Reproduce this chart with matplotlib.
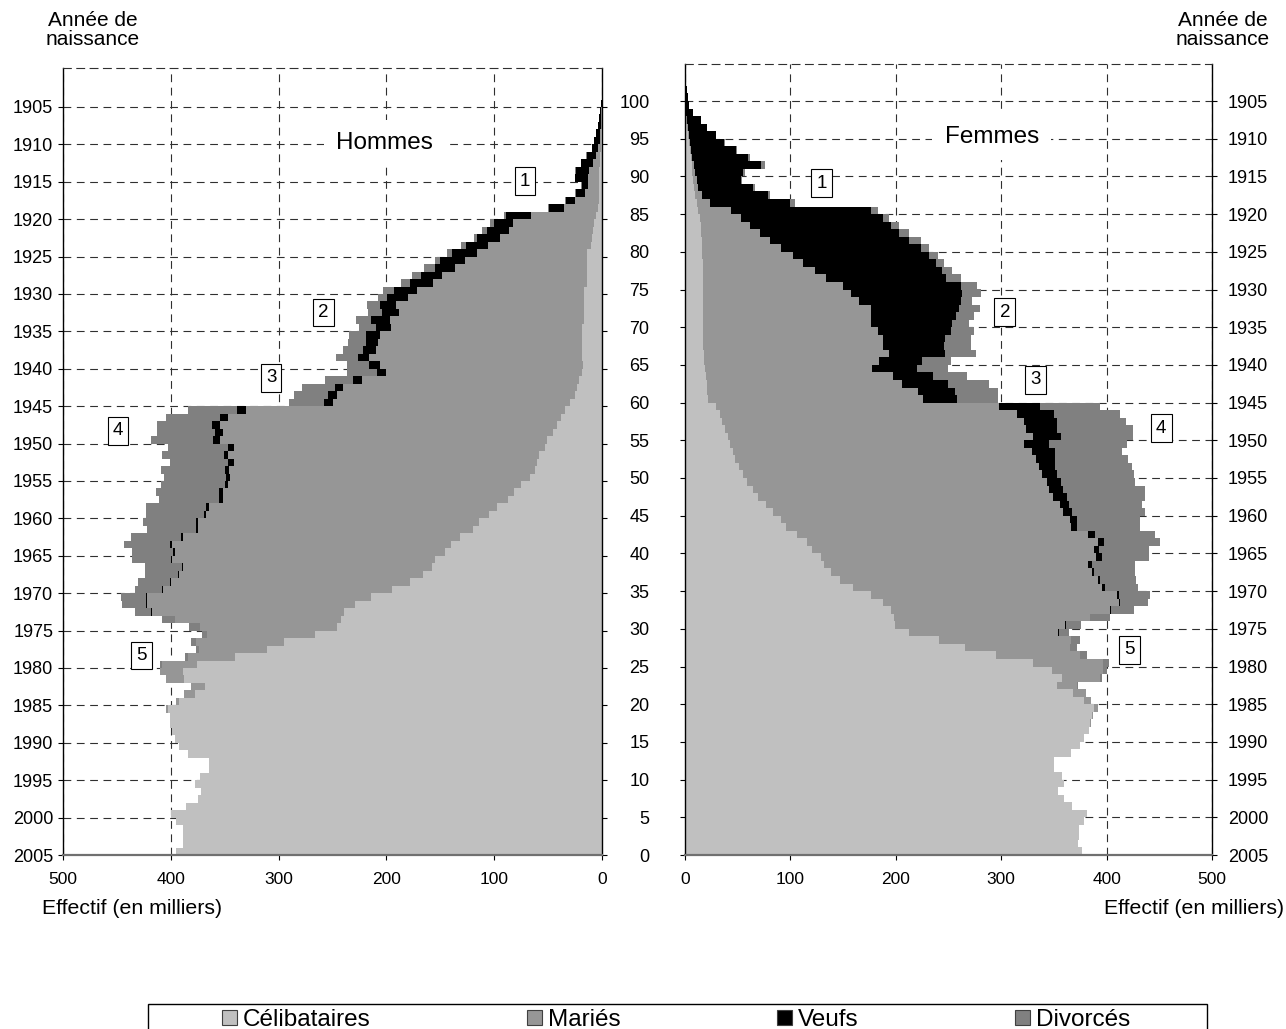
import numpy as np
import matplotlib.pyplot as plt
from matplotlib.patches import Patch, Rectangle

plt.rcParams['font.family'] = ['Liberation Sans', 'DejaVu Sans']

# Age révolu au 1er janvier 2005 (0 à 104 ans), effectifs en milliers
ages = np.arange(105)

hommes_celib = [395, 389, 389, 389, 395, 400, 386, 375, 372, 378,
                373, 365, 365, 384, 392, 396, 399, 401, 400.5, 403,
                392, 378, 368, 388, 389, 376, 340, 311, 295, 266,
                246, 242, 239, 229, 214, 195, 178, 166, 158, 155,
                146, 140, 132, 120, 114, 105, 97, 87, 82, 75,
                67, 62, 60, 58, 53, 51, 45, 42, 38, 34,
                30, 25, 23, 21, 19, 18, 19, 19, 19, 19,
                19, 17, 17, 17, 17, 17, 14, 14, 14, 14,
                14, 10, 9, 8, 7, 6, 4, 3, 3, 2.5,
                2.7, 2.5, 2, 1.5, 1, 0.8, 0.6, 0.4, 0.3, 0.2,
                0.1, 0, 0, 0, 0]
hommes_maries = [0, 0, 0, 0, 0, 0, 0, 0, 0, 0,
                 0, 0, 0, 0, 0, 0, 0, 0, 0.5, 1,
                 3, 10, 13, 16, 21, 32, 44, 63, 82, 100,
                 127, 154, 178, 193, 208, 212, 222, 226, 231, 244,
                 250, 259, 257, 255, 261, 262, 268, 265, 270, 272,
                 278, 284, 281, 289, 288, 303, 307, 312, 309, 296,
                 220, 221, 217, 202, 181, 188, 197, 191, 189, 187,
                 177, 180, 171, 174, 163, 155, 143, 134, 122, 113,
                 102, 96, 86, 78, 76, 60, 31, 21.6, 13, 10.5,
                 10.3, 10, 6.7, 4.2, 2.8, 1.1, 1, 0.6, 0.4, 0.3,
                 0.2, 0, 0, 0, 0]
hommes_veufs = [0, 0, 0, 0, 0, 0, 0, 0, 0, 0,
                0, 0, 0, 0, 0, 0, 0, 0, 0, 0,
                0, 0, 0, 0, 0, 0, 0, 0, 0, 0,
                0, 0.5, 1, 1, 1, 1, 1, 1, 1, 1,
                1.5, 1.5, 2, 2, 2, 2, 2.5, 3, 3, 3,
                4, 3.5, 6, 4, 6, 7, 7, 8, 7, 9,
                8, 8, 8, 8, 9, 10, 10, 12, 11, 13,
                14, 17, 16, 15, 19, 21, 21, 20, 19, 23,
                23, 20, 21, 21, 17, 23, 14, 9, 8.5, 6,
                11.6, 11.8, 10.8, 8.6, 5.6, 5.6, 4.1, 2.8, 1.9, 1.4,
                0.8, 0.4, 0.2, 0.1, 0]
hommes_divorces = [0, 0, 0, 0, 0, 0, 0, 0, 0, 0,
                   0, 0, 0, 0, 0, 0, 0, 0, 0, 0,
                   0, 0, 0, 0, 0, 2, 3, 3, 4, 5,
                   10, 11.5, 15, 22, 23, 25, 29, 31, 34, 36,
                   38.5, 42.5, 46, 45, 49, 54, 55.5, 56, 59, 59,
                   57, 59.5, 54, 57, 56, 57, 54, 51, 50, 45,
                   32, 32, 30, 26, 28, 21, 21, 18, 17, 16,
                   15, 14, 13, 12, 9, 10, 8, 8, 10, 5,
                   5, 5, 3, 4, 4, 2, 1, 0.5, 0.5, 0.3,
                   0.4, 0.3, 0.2, 0.1, 0.1, 0.1, 0, 0, 0, 0,
                   0, 0, 0, 0, 0]

femmes_celib = [377, 373, 373.5, 373.5, 379, 381, 367.6, 359.8, 354, 359.5,
                358, 350, 350, 366.5, 374.6, 378.5, 383.5, 384.5, 386, 388,
                379, 368, 353, 358, 348, 330, 295, 266, 241, 212.5,
                199, 198, 195.4, 187.5, 176.5, 159.7, 147, 138.5, 131.9, 129,
                120.5, 115.7, 106, 95.8, 91.1, 83.8, 76.9, 69.6, 64.8, 59.1,
                55.4, 51.5, 47.4, 45.2, 42.7, 40.5, 38, 35.4, 33.2, 29.4,
                22.1, 21, 20.5, 20, 19, 18.5, 18, 17.5, 17.3, 17.3,
                17.3, 17.3, 17.3, 17.3, 17.2, 17, 17, 16.8, 16.7, 16.5,
                16.3, 16, 15.5, 14.8, 14, 12.6, 11, 9.5, 8.5, 7.5,
                7, 6.5, 5.5, 4.5, 3.5, 2.8, 2, 1.4, 0.9, 0.5,
                0.3, 0.2, 0.1, 0.1, 0]
femmes_mariees = [0, 0, 0, 0, 0, 0, 0, 0, 0, 0,
                  0, 0, 0, 0, 0, 0, 0, 0.5, 1.4, 4,
                  6, 12, 19, 36, 49, 66.5, 80, 99, 125, 141.5,
                  161.5, 186, 207.6, 224, 233, 236.4, 244.5, 247.2, 250.7, 261.3,
                  267.1, 275.8, 276.6, 270.2, 274.5, 274.9, 279.1, 279.4, 280.2, 283.9,
                  283.6, 284.5, 285.6, 283.8, 279.3, 289.3, 286, 286.6, 281.8, 268.6,
                  203.9, 200, 185.5, 177, 158, 165.5, 176, 170.5, 170.2, 165.7,
                  159.1, 159.1, 159.1, 148.1, 140.3, 133.3, 116.9, 107, 95.1, 85.9,
                  75.1, 64.3, 55.4, 46.6, 39.6, 31.4, 12.6, 6.3, 4.1, 3.5,
                  2.5, 2, 1.5, 1.5, 1, 0.7, 0.5, 0.4, 0.3, 0.2,
                  0.1, 0, 0, 0, 0]
femmes_veuves = [0, 0, 0, 0, 0, 0, 0, 0, 0, 0,
                 0, 0, 0, 0, 0, 0, 0, 0, 0, 0,
                 0, 0, 0, 0, 0, 0, 0, 0, 0, 0.5,
                 1.2, 0.7, 1.2, 1.1, 2.4, 2, 1.9, 2.7, 3.1, 5.1,
                 5, 5.8, 6.2, 6, 6.4, 8.3, 8.5, 13, 14, 14,
                 14, 15, 18, 22, 23.2, 26.9, 28.9, 30.9, 35.2, 38.7,
                 32, 35, 44, 38, 43, 41, 53, 57.7, 59.5, 69,
                 77.2, 80.4, 83.6, 96.1, 105.5, 111.2, 113.4, 120.4, 126.1, 129.2,
                 132.3, 132.4, 132.3, 133.9, 133.9, 132.4, 75.6, 63, 52, 42,
                 45.6, 64, 52.9, 42.8, 32.7, 25.8, 18, 13, 6.7, 3.4,
                 2.1, 1.4, 1.0, 0.6, 0.4]
femmes_divorcees = [0, 0, 0, 0, 0, 0, 0, 0, 0, 0,
                    0, 0, 0, 0, 0, 0, 0, 0, 0, 0,
                    0, 0, 1, 2, 3, 5.5, 6, 7, 9, 10,
                    14.2, 18.5, 22, 26.3, 29.7, 31.9, 34.7, 38.9, 41.6, 44.4,
                    47.9, 53.2, 56.7, 60, 60, 69, 69.5, 74, 77, 70,
                    73, 73, 69, 63.6, 74.1, 68.7, 72.5, 65.6, 62.5, 56.7,
                    39, 41, 38, 33, 30, 27, 29, 25.3, 24, 22,
                    15.8, 17.7, 20, 11, 17.4, 15.8, 14.2, 9.4, 7.8, 8.4,
                    7.9, 11, 9.5, 7.9, 6.3, 6.3, 5.2, 1.5, 1.9, 1.5,
                    1.4, 3.1, 1.5, 0.7, 0.3, 0.2, 0.2, 0.2, 0.1, 0.1,
                    0, 0, 0, 0, 0]

categories = ['Célibataires', 'Mariés', 'Veufs', 'Divorcés']
couleurs = ['#c0c0c0', '#969696', '#000000', '#808080']

tick_ages = list(range(0, 101, 5))
annees = [str(2005 - a) for a in tick_ages]

W, H = 1286, 1029
fig = plt.figure(figsize=(W / 100, H / 100), dpi=100)

axL = fig.add_axes([63 / W, 1 - 855 / H, 539 / W, 787 / H])
axR = fig.add_axes([685 / W, 1 - 855 / H, 527 / W, 791 / H])

dash = (0, (7, 5))
grid_col = '#303030'


def tracer(ax, series):
    gauche = np.zeros(len(ages))
    for vals, col in zip(series, couleurs):
        vals = np.asarray(vals, dtype=float)
        ax.barh(ages, vals, height=1, left=gauche, align='edge', color=col,
                linewidth=0, antialiased=False, zorder=2)
        gauche = gauche + vals
    ax.set_xticks(range(0, 501, 100))
    ax.set_yticks(tick_ages)
    ax.set_axisbelow(True)
    ax.grid(True, color=grid_col, linestyle=dash, linewidth=0.8)
    ax.spines['top'].set_linestyle(dash)
    ax.spines['top'].set_color(grid_col)
    ax.spines['top'].set_linewidth(0.8)
    ax.spines['bottom'].set_color('#707070')
    ax.spines['bottom'].set_linewidth(1.6)
    for s in ('left', 'right'):
        ax.spines[s].set_linewidth(1.0)
    ax.tick_params(axis='x', direction='out', length=3.6, width=0.8,
                   labelsize=12.5, pad=9)


# Hommes
tracer(axL, [hommes_celib, hommes_maries, hommes_veufs, hommes_divorces])
axL.set_xlim(500, 0)
axL.set_ylim(0, 787 / 7.48)
axL.set_yticklabels(annees)
axL.tick_params(axis='y', direction='out', left=True, right=True,
                labelleft=True, labelright=False, length=3.6, width=0.8,
                labelsize=13, pad=3.5)

# Femmes
tracer(axR, [femmes_celib, femmes_mariees, femmes_veuves, femmes_divorcees])
axR.set_xlim(0, 500)
axR.set_ylim(0, 791 / 7.54)
axR.set_yticklabels([str(a) for a in tick_ages])
axR.tick_params(axis='y', direction='out', left=True, right=False,
                labelleft=True, length=3.6, width=0.8, labelsize=13, pad=22)

twin = axR.twinx()
twin.set_ylim(axR.get_ylim())
twin.set_yticks(tick_ages)
twin.set_yticklabels(annees)
twin.tick_params(axis='y', direction='out', length=3.6, width=0.8,
                 labelsize=13, pad=8)
for s in twin.spines.values():
    s.set_visible(False)

# Titres des panneaux
boite_titre = dict(boxstyle='square,pad=0.5', fc='white', ec='none')
axL.text(202, 95.2, 'Hommes', fontsize=17.5, ha='center', va='center',
         bbox=boite_titre, zorder=4)
axR.text(291, 95.2, 'Femmes', fontsize=17.5, ha='center', va='center',
         bbox=boite_titre, zorder=4)

# Repères numérotés
boite_num = dict(boxstyle='square,pad=0.28', fc='white', ec='black', lw=0.8)
reperes_h = [('1', 71.4, 90.1), ('2', 258.8, 72.5), ('3', 307, 63.8),
             ('4', 449, 56.7), ('5', 427.6, 26.7)]
reperes_f = [('1', 129.5, 89.1), ('2', 303.4, 72), ('3', 332.7, 63),
             ('4', 451.8, 56.6), ('5', 421.6, 27.2)]
for txt, x, y in reperes_h:
    axL.text(x, y, txt, fontsize=13.5, ha='center', va='center',
             bbox=boite_num, zorder=5)
for txt, x, y in reperes_f:
    axR.text(x, y, txt, fontsize=13.5, ha='center', va='center',
             bbox=boite_num, zorder=5)

# Textes d'axes
fig.text(93 / W, 1 - 30 / H, 'Année de\nnaissance', fontsize=15,
         ha='center', va='center', linespacing=1.0)
fig.text(1223 / W, 1 - 30 / H, 'Année de\nnaissance', fontsize=15,
         ha='center', va='center', linespacing=1.0)
fig.text(42 / W, 1 - 908 / H, 'Effectif (en milliers)', fontsize=15.3,
         ha='left', va='center')
fig.text(1284 / W, 1 - 908 / H, 'Effectif (en milliers)', fontsize=15.3,
         ha='right', va='center')

# Légende
poignees = [Patch(facecolor=c, edgecolor='#404040', linewidth=0.8) for c in couleurs]
fig.legend(poignees, categories, loc='center', ncol=4, mode='expand',
           bbox_to_anchor=(222 / W, 1 - 1030 / H, 908 / W, 20 / H),
           frameon=False, fontsize=17.5, handlelength=0.62, handleheight=0.62,
           handletextpad=0.25, borderpad=0, borderaxespad=0)
fig.patches.append(Rectangle((148 / W, -0.05), 1059 / W, 0.05 + 1 - 1004 / H,
                             transform=fig.transFigure, fill=False,
                             ec='black', lw=1.0))

fig.savefig('out.png', dpi=100)
